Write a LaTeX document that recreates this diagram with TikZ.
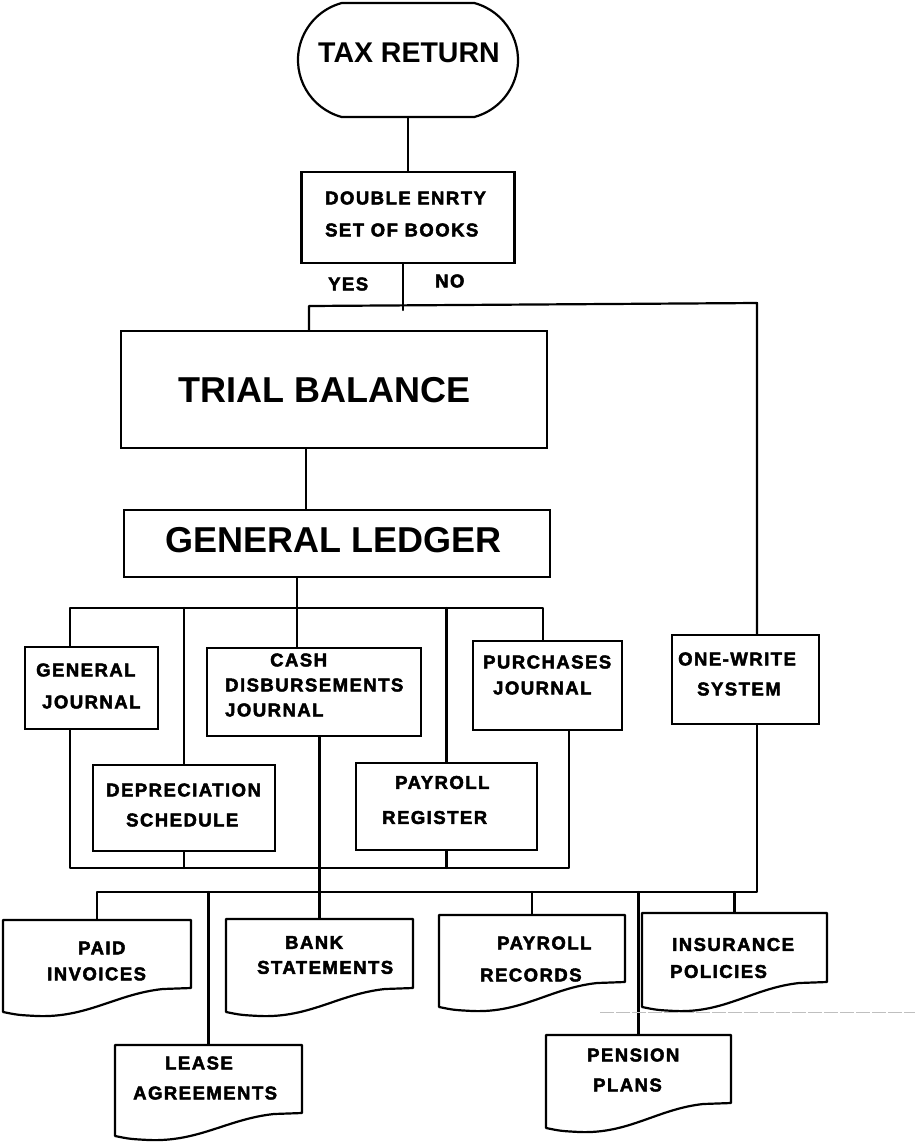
\documentclass[tikz,border=0pt]{standalone}
\usepackage{fontspec}
\usetikzlibrary{shapes.misc,calc}
\newfontfamily\labfont[LetterSpace=8,FakeBold=2.6]{Liberation Sans Bold}
\newfontfamily\bigfont{Liberation Sans}
\tikzset{
  ln/.style={line width=2.2pt, line cap=round, line join=round},
  box/.style={draw, line width=2.2pt, rectangle, inner sep=0pt},
  lab/.style={font=\labfont\fontsize{18.5}{30}\selectfont, align=left, anchor=west, inner sep=0pt},
  big/.style={font=\bigfont\bfseries\fontsize{36}{40}\selectfont, anchor=west, inner sep=0pt},
  docnode/.style={inner sep=0pt, draw=none, rectangle},
}
% name, xl, xr, top, yr (right bottom), yl (left bottom)
\newcommand\docshape[6]{%
  \node[docnode, minimum width={#3-#2}, minimum height={#5-#4}] (#1) at ({(#2+#3)/2},{(#4+#5)/2}) {};
  \draw[ln] (#2,#4) -- (#3,#4) -- (#3,#5) -- ({#3-0.15*(#3-#2)},{#5+1})
    .. controls ({#3-0.4*(#3-#2)},{#5+6}) and ({#2+0.45*(#3-#2)},{#6+6}) .. ({#2+0.18*(#3-#2)},{#6+4})
    .. controls ({#2+0.08*(#3-#2)},{#6+3}) .. (#2,#6) -- cycle;
}
\begin{document}
\begin{tikzpicture}[x=1pt,y=-1pt]
\path[use as bounding box] (0,0) rectangle (915,1144);
\fill[white] (0,0) rectangle (915,1144);

% main boxes
\node[draw, line width=2.2pt, rounded rectangle, rounded rectangle arc length=150, minimum width=220pt, minimum height=114pt, inner sep=0pt] (tax) at (408,60) {};
\node[big, font=\bigfont\bfseries\fontsize{28.5}{32}\selectfont] (taxt) at (318,53) {TAX RETURN};

\node[box, minimum width=213pt, minimum height=91pt] (de) at (408,217.5) {};
\node[lab] (det) at (325,214) {DOUBLE ENRTY\\[2pt]SET OF BOOKS};

\node[lab] (yes) at (328,284) {YES};
\node[lab] (no) at (435,281) {NO};

\node[box, minimum width=426pt, minimum height=117pt] (tb) at (334,389.5) {};
\node[big] (tbt) at (178,390) {TRIAL BALANCE};

\node[box, minimum width=426pt, minimum height=67pt] (gl) at (337,543.5) {};
\node[big] (glt) at (165,540) {GENERAL LEDGER};

\node[box, minimum width=133pt, minimum height=82pt] (gj) at (91.5,688) {};
\node[lab] (gjt) at (36,686) {GENERAL\\[2pt]\hspace*{6pt}JOURNAL};

\node[box, minimum width=214pt, minimum height=88pt] (cdj) at (314,692) {};
\node[lab, font=\labfont\fontsize{18.5}{25}\selectfont] (cdjt) at (225,685) {\hspace*{45pt}CASH\\DISBURSEMENTS\\JOURNAL};

\node[box, minimum width=182pt, minimum height=86pt] (dep) at (184,808) {};
\node[lab] (dept) at (106,805) {DEPRECIATION\\\hspace*{20pt}SCHEDULE};

\node[box, minimum width=149pt, minimum height=89pt] (pj) at (547.5,685.5) {};
\node[lab, font=\labfont\fontsize{18.5}{26}\selectfont] (pjt) at (483,675) {PURCHASES\\\hspace*{10pt}JOURNAL};

\node[box, minimum width=181pt, minimum height=87pt] (pr) at (446.5,806.5) {};
\node[lab] (prt) at (382,800) {\hspace*{13pt}PAYROLL\\[5pt]REGISTER};

\node[box, minimum width=147pt, minimum height=89pt] (ow) at (745.5,679.5) {};
\node[lab] (owt) at (678,674) {ONE-WRITE\\\hspace*{19pt}SYSTEM};

% documents
\docshape{pi}{3}{191}{920}{988}{1012}
\node[lab, font=\labfont\fontsize{18.5}{26}\selectfont] (pit) at (47,961) {\hspace*{31pt}PAID\\INVOICES};
\docshape{bank}{226}{413}{919}{988}{1012}
\node[lab, font=\labfont\fontsize{18.5}{25}\selectfont] (bankt) at (257,955) {\hspace*{28pt}BANK\\STATEMENTS};
\docshape{la}{115}{302}{1045}{1113}{1136}
\node[lab] (lat) at (133,1078) {\hspace*{32pt}LEASE\\AGREEMENTS};
\docshape{prr}{439}{625}{915}{982}{1007}
\node[lab, font=\labfont\fontsize{18.5}{32}\selectfont] (prrt) at (480,959) {\hspace*{17pt}PAYROLL\\RECORDS};
\docshape{ip}{642}{827}{913}{982}{1007}
\node[lab, font=\labfont\fontsize{18.5}{27}\selectfont] (ipt) at (670,958) {\hspace*{2pt}INSURANCE\\POLICIES};
\docshape{pp}{546}{731}{1035}{1103}{1128}
\node[lab] (ppt) at (587,1070) {PENSION\\\hspace*{6pt}PLANS};

% helper coordinates
\coordinate (dp) at (403,310);
\coordinate (jL) at (309,306);
\coordinate (jR) at (757,303);
\coordinate (jB) at (757,892);
\coordinate (jBL) at (97,892);
\coordinate (c1) at (306,0);
\coordinate (g) at (297,608);
\coordinate (bl) at (70,608);
\coordinate (br) at (543,608);
\coordinate (lb) at (70,868);
\coordinate (rb) at (569,868);

% connectors
\draw[ln] (tax.south) -- (de.north);
\draw[ln] (de.south -| dp) -- (dp);
\draw[ln] (jL |- tb.north) -- (jL) -- (jR) -- (jR |- ow.north);
\draw[ln] (tb.south -| c1) -- (gl.north -| c1);
\draw[ln] (gl.south -| g) -- (cdj.north -| g);
\draw[ln] (bl |- gj.north) -- (bl) -- (br) -- (br |- pj.north);
\draw[ln] (dep.north |- bl) -- (dep.north);
\draw[ln] (pr.north |- br) -- (pr.north);
\draw[ln] (gj.south -| lb) -- (lb) -- (rb) -- (rb |- pj.south);
\draw[ln] (dep.south) -- (dep.south |- lb);
\draw[ln] (pr.south) -- (pr.south |- lb);
\draw[ln] (cdj.south -| bank.north) -- (bank.north);
\draw[ln] (jR |- ow.south) -- (jB) -- (jBL) -- (pi.north);
\draw[ln] (la.north |- jB) -- (la.north);
\draw[ln] (prr.north |- jB) -- (prr.north);
\draw[ln] (pp.north |- jB) -- (pp.north);
\draw[ln] (ip.north |- jB) -- (ip.north);

% scan line
\coordinate (s1) at (600,1012);
\coordinate (s2) at (915,1012);
\draw[gray!50, line width=0.6pt, dash pattern=on 14pt off 2pt] (s1) -- (s2);
\end{tikzpicture}
\end{document}
